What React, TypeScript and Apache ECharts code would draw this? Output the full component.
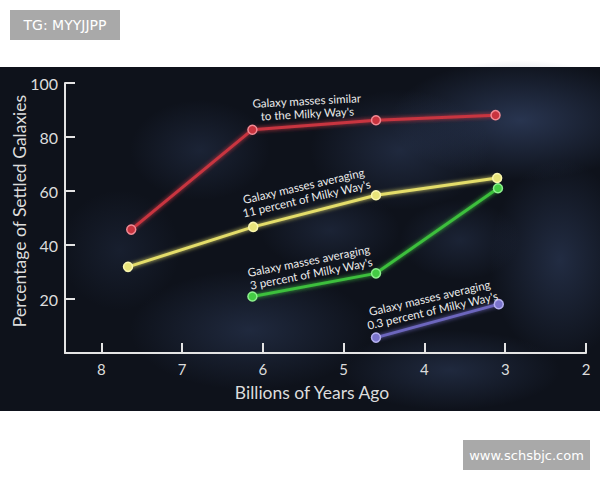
import React, { useEffect, useRef } from "react";
import * as echarts from "echarts";

const xTicks = [8, 7, 6, 5, 4, 3, 2];
const yTicks = [20, 40, 60, 80, 100];

const redX = [7.63, 6.13, 4.6, 3.12];
const redY = [45.7, 82.7, 86.2, 88.1];
const yellowX = [7.67, 6.12, 4.6, 3.1];
const yellowY = [31.9, 46.7, 58.4, 64.8];
const greenX = [6.13, 4.6, 3.09];
const greenY = [20.9, 29.5, 61.0];
const blueX = [4.6, 3.08];
const blueY = [5.7, 18.1];

const seriesNames = [
  "Galaxy masses similar\nto the Milky Way's",
  "Galaxy masses averaging\n11 percent of Milky Way's",
  "Galaxy masses averaging\n3 percent of Milky Way's",
  "Galaxy masses averaging\n0.3 percent of Milky Way's",
];

const FONT = "Lato, 'Open Sans', sans-serif";

function pairs(xs: number[], ys: number[]) {
  return xs.map((x, i) => [x, ys[i]]);
}

function mkSeries(name: string, data: number[][], line: string, fill: string, border: string) {
  return {
    type: "line",
    name,
    data,
    symbol: "circle",
    symbolSize: 9,
    lineStyle: { color: line, width: 3, shadowColor: line, shadowBlur: 4 },
    itemStyle: { color: fill, borderColor: border, borderWidth: 1.5 },
    z: 5,
  };
}

function blob(cx: number, cy: number, rx: number, ry: number, a: number) {
  return {
    type: "ellipse",
    shape: { cx, cy, rx, ry },
    style: {
      fill: new echarts.graphic.RadialGradient(0.5, 0.5, 0.5, [
        { offset: 0, color: `rgba(58,76,115,${a})` },
        { offset: 1, color: "rgba(58,76,115,0)" },
      ]),
    },
    silent: true,
  };
}

function note(text: string, x: number, y: number, rotDeg: number) {
  return {
    type: "text",
    x,
    y,
    rotation: (rotDeg * Math.PI) / 180,
    z: 10,
    style: {
      text,
      fill: "#ececec",
      font: `11.5px ${FONT}`,
      align: "center",
      verticalAlign: "middle",
      lineHeight: 13,
    },
  };
}

export default function App() {
  const ref = useRef<HTMLDivElement>(null);
  useEffect(() => {
    if (!ref.current) return;
    const chart = echarts.init(ref.current, null, { renderer: "svg" });
    chart.setOption({
      animation: false,
      backgroundColor: "#ffffff",
      grid: { left: 65, right: 14, top: 83, bottom: 127, containLabel: false, outerBoundsMode: "none" },
      xAxis: {
        type: "value",
        inverse: true,
        min: 2,
        max: 8.45,
        interval: 1,
        splitLine: { show: false },
        axisLine: { show: true, lineStyle: { color: "#e4e4e4", width: 2 } },
        axisTick: {
          show: true,
          inside: true,
          length: 10,
          lineStyle: { color: "#e4e4e4", width: 2 },
          customValues: xTicks,
        },
        axisLabel: {
          color: "#dcdcdc",
          fontSize: 15,
          fontFamily: FONT,
          margin: 8,
          customValues: xTicks,
          formatter: (v: number) => (xTicks.includes(v) ? String(v) : ""),
        },
      },
      yAxis: {
        type: "value",
        min: 0,
        max: 100,
        interval: 20,
        splitLine: { show: false },
        axisLine: { show: true, lineStyle: { color: "#e4e4e4", width: 2 } },
        axisTick: {
          show: true,
          inside: true,
          length: 10,
          lineStyle: { color: "#e4e4e4", width: 2 },
          customValues: yTicks,
        },
        axisLabel: {
          color: "#dcdcdc",
          fontSize: 16,
          fontFamily: FONT,
          margin: 7,
          customValues: yTicks,
          formatter: (v: number) => (yTicks.includes(v) ? String(v) : ""),
        },
      },
      graphic: [
        {
          type: "rect",
          shape: { x: 0, y: 67, width: 600, height: 344 },
          style: { fill: "#0e121b" },
          silent: true,
          z: -10,
        },
        {
          type: "group",
          z: -9,
          children: [
            blob(520, 120, 130, 60, 0.6),
            blob(400, 150, 90, 60, 0.4),
            blob(560, 260, 70, 100, 0.45),
            blob(250, 330, 120, 60, 0.4),
            blob(450, 370, 110, 40, 0.4),
            blob(200, 150, 70, 50, 0.3),
            blob(120, 250, 60, 60, 0.22),
            blob(330, 230, 70, 40, 0.3),
            blob(460, 240, 60, 40, 0.3),
          ],
        },
        {
          type: "rect",
          shape: { x: 0, y: 0, width: 600, height: 67 },
          style: { fill: "#ffffff" },
          silent: true,
          z: -8,
        },
        {
          type: "rect",
          shape: { x: 0, y: 411, width: 600, height: 69 },
          style: { fill: "#ffffff" },
          silent: true,
          z: -8,
        },
        {
          type: "text",
          x: 312,
          y: 392,
          z: 10,
          style: {
            text: "Billions of Years Ago",
            fill: "#dcdcdc",
            font: `17.5px ${FONT}`,
            align: "center",
            verticalAlign: "middle",
          },
        },
        {
          type: "text",
          x: 19,
          y: 211,
          z: 10,
          rotation: Math.PI / 2,
          style: {
            text: "Percentage of Settled Galaxies",
            fill: "#dcdcdc",
            font: `17.5px ${FONT}`,
            align: "center",
            verticalAlign: "middle",
          },
        },
        note(seriesNames[0], 307, 107, 3),
        note(seriesNames[1], 305, 192, 13),
        note(seriesNames[2], 310, 267, 11),
        note(seriesNames[3], 431, 304, 13),
        {
          type: "rect",
          z: 20,
          shape: { x: 10, y: 10, width: 110, height: 30 },
          style: { fill: "#a9a9a9" },
        },
        {
          type: "text",
          z: 21,
          x: 65,
          y: 25,
          style: {
            text: "TG: MYYJJPP",
            fill: "#ffffff",
            font: "14px 'DejaVu Sans', sans-serif",
            align: "center",
            verticalAlign: "middle",
          },
        },
        {
          type: "rect",
          z: 20,
          shape: { x: 463, y: 440, width: 127, height: 30 },
          style: { fill: "#a9a9a9" },
        },
        {
          type: "text",
          z: 21,
          x: 526.5,
          y: 455,
          style: {
            text: "www.schsbjc.com",
            fill: "#ffffff",
            font: "13px 'DejaVu Sans', sans-serif",
            align: "center",
            verticalAlign: "middle",
          },
        },
      ],
      series: [
        mkSeries("red", pairs(redX, redY), "#c8343f", "#c8343f", "#f08a94"),
        mkSeries("yellow", pairs(yellowX, yellowY), "#e4dd6a", "#e8e47a", "#fbf7b0"),
        mkSeries("green", pairs(greenX, greenY), "#3cbf3c", "#44cc44", "#8ff08f"),
        mkSeries("blue", pairs(blueX, blueY), "#6c66bd", "#7a74cc", "#b4b0ee"),
      ],
    });
    return () => chart.dispose();
  }, []);
  return (
    <div
      ref={ref}
      style={{ position: "fixed", left: 0, top: 0, width: 600, height: 480 }}
    />
  );
}
